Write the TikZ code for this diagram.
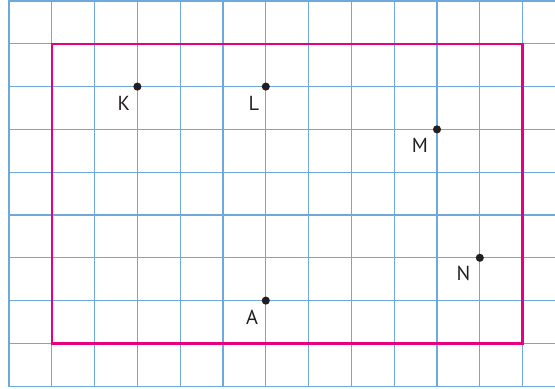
\documentclass[tikz,border=0pt]{standalone}
\usepackage{fontspec}
\setmainfont{PT Sans}
\definecolor{gridblue}{RGB}{111,168,220}
\definecolor{framepink}{RGB}{230,0,126}
\definecolor{inkgray}{RGB}{35,31,32}

\begin{document}
\begin{tikzpicture}[line cap=round,line join=round,every node/.style={inner sep=1pt},
  dot/.style={circle,fill=inkgray,minimum size=0.19cm,inner sep=0pt},
  lab/.style={text=inkgray,font=\fontsize{13.5}{15}\selectfont}]
  \useasboundingbox (-0.21,-0.047) rectangle (12.757,9.023);
  \foreach \x in {0,...,12}{
    \draw[gridblue,line width=0.9pt] (\x,0) -- (\x,9.023);
  }
  \foreach \y in {0,...,9}{
    \draw[gridblue,line width=0.9pt] (0,\y) -- (12.757,\y);
  }
  \draw[framepink,line width=1.6pt,line cap=butt,line join=miter] (1,1) rectangle (12,8);
  \node[dot] (K) at (3,7) {};
  \node[dot] (L) at (6,7) {};
  \node[dot] (M) at (10,6) {};
  \node[dot] (N) at (11,3) {};
  \node[dot] (A) at (6,2) {};
  \node[lab] (Klab) at ([shift={(-0.32,-0.40)}]K) {K};
  \node[lab] (Llab) at ([shift={(-0.28,-0.40)}]L) {L};
  \node[lab] (Mlab) at ([shift={(-0.40,-0.38)}]M) {M};
  \node[lab] (Nlab) at ([shift={(-0.38,-0.36)}]N) {N};
  \node[lab] (Alab) at ([shift={(-0.32,-0.38)}]A) {A};
\end{tikzpicture}
\end{document}
